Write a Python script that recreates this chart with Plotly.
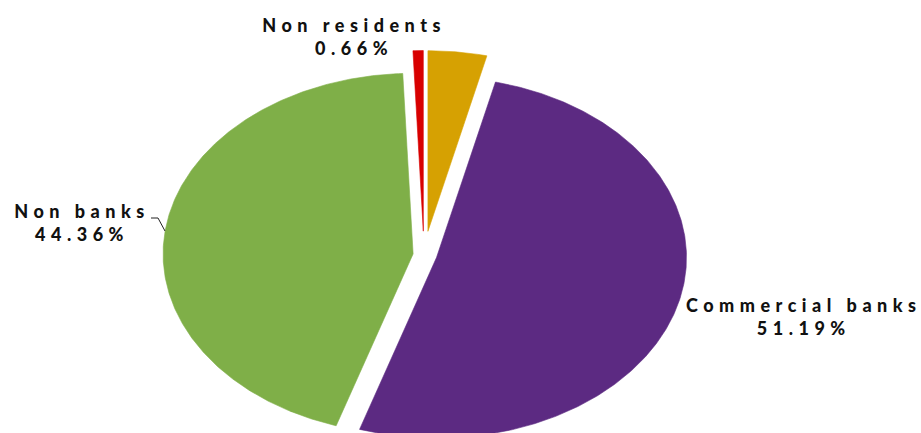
import numpy as np
import plotly.graph_objects as go

# Shares of holdings by sector (%), clockwise from 12 o'clock
categories = ["Others", "Commercial banks", "Non banks", "Non residents"]
shares = [3.79, 51.19, 44.36, 0.66]
colors = ["#D6A102", "#5C2A82", "#7FAF48", "#D80000"]
show_label = [False, True, True, True]

# Tilted-pie geometry (pixel space), explosion distance per slice
CX, CY, RX, RY = 424.0, 255.0, 250.0, 180.6
K = RY / RX
explode = [33.0, 13.0, 11.0, 33.0]

W, H = 921, 433

fig = go.Figure()

total = float(sum(shares))
start = 0.0
for name, val, col, d in zip(categories, shares, colors, explode):
    span = 360.0 * val / total
    end = start + span
    mid = np.radians(start + span / 2)
    dx = d * np.sin(mid)
    dy = -d * K * np.cos(mid)
    n = max(6, int(span * 2))
    t = np.radians(np.linspace(start, end, n))
    xs = np.concatenate([[CX], CX + RX * np.sin(t), [CX]]) + dx
    ys = np.concatenate([[CY], CY - RY * np.cos(t), [CY]]) + dy
    fig.add_trace(go.Scatter(
        x=xs, y=ys, mode="lines", fill="toself",
        fillcolor=col, line=dict(color=col, width=0.6),
        name=name, hoverinfo="name", showlegend=False,
    ))
    start = end

# Data labels
label_pos = {
    "Non residents": (354, 36.5),
    "Non banks": (82, 222),
    "Commercial banks": (804, 316),
}
for name, val, show in zip(categories, shares, show_label):
    if not show:
        continue
    x, y = label_pos[name]
    fig.add_annotation(
        x=x, y=y, xref="x", yref="y",
        text=f"{name}<br>{val:.2f}%",
        showarrow=False, align="center",
        xanchor="center", yanchor="middle",
        font=dict(family="Lato", size=18, color="#111111", weight=900),
    )

# Leader line for the Non banks label
fig.add_shape(
    type="path", path="M 151 218 L 158 218 L 165 231",
    xref="x", yref="y", line=dict(color="#222222", width=1),
)

fig.update_xaxes(range=[0, W], visible=False, fixedrange=True)
fig.update_yaxes(range=[H, 0], visible=False, fixedrange=True)
fig.update_layout(
    width=W, height=H,
    margin=dict(l=0, r=0, t=0, b=0),
    paper_bgcolor="white", plot_bgcolor="white",
    showlegend=False,
)

spacing_css = (
    "var s=document.createElement('style');"
    "s.textContent='.annotation-text{letter-spacing:5.5px;}';"
    "document.head.appendChild(s);"
)
fig.write_html("out.html", post_script=spacing_css)
